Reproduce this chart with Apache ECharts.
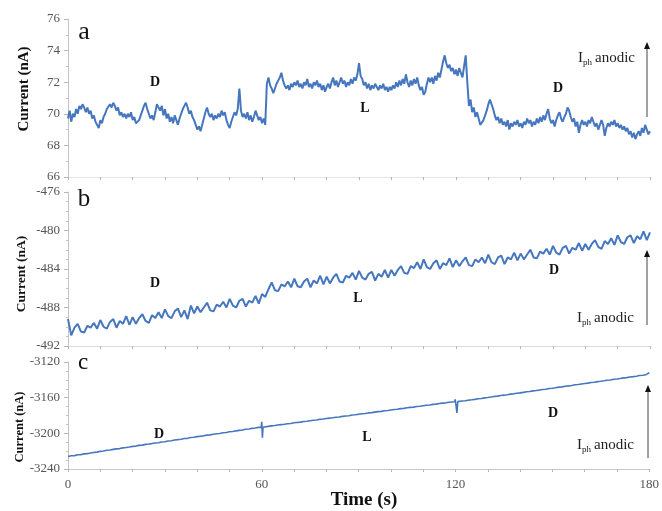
<!DOCTYPE html>
<html><head><meta charset="utf-8">
<script src="https://cdn.jsdelivr.net/npm/echarts@6/dist/echarts.min.js"></script>
<style>html,body{margin:0;padding:0;background:#fff}#c{width:662px;height:511px}</style>
</head><body><div id="c"></div>
<script>
// ---- data ----
const xTicks = [0, 60, 120, 180];
const stepA = 0.5;   // s between samples, panel a
const valsA = [
69.7,70.2,69.5,70.0,69.8,70.3,70.0,70.5,70.3,70.6,
70.4,70.1,70.4,70.0,70.2,69.7,69.9,69.5,69.3,69.1,
69.6,69.4,69.8,70.0,70.3,70.2,70.6,70.4,70.7,70.5,
70.2,70.4,69.9,70.1,69.8,70.0,69.7,70.0,69.8,70.1,
69.6,69.8,69.4,69.3,69.6,69.9,70.2,70.5,70.7,70.3,
70.0,69.7,69.9,69.6,70.1,70.6,70.7,70.2,70.5,69.9,
70.3,69.7,70.0,69.5,69.8,69.4,69.9,69.6,69.3,69.7,
70.0,70.3,70.5,70.7,70.4,70.0,70.2,69.8,69.6,69.3,
69.0,69.2,68.9,69.3,69.7,70.1,70.4,70.0,69.8,70.0,
69.6,69.9,69.7,70.0,69.8,70.2,69.9,70.1,69.6,69.3,
69.1,69.5,69.8,70.1,69.9,70.3,71.6,70.2,69.8,70.0,
69.7,70.1,69.6,69.9,69.5,69.8,70.2,69.9,69.6,69.8,
69.4,
69.7,69.3,71.9,72.3,71.8,71.6,71.3,71.6,71.9,72.1,
72.3,72.6,72.1,71.8,71.6,71.8,71.5,71.9,71.7,72.0,
71.8,72.1,71.7,71.9,71.6,72.0,71.8,72.2,71.7,71.9,
71.6,72.0,71.8,72.1,71.7,71.9,71.5,71.8,71.4,71.7,
71.9,71.6,72.0,72.3,71.8,72.1,71.7,72.0,72.3,71.9,
72.1,71.7,72.0,71.8,72.2,71.9,72.3,72.1,72.5,73.2,
72.4,72.2,71.8,72.0,71.6,71.9,71.5,71.8,71.6,71.9,
71.7,71.5,71.8,71.6,71.9,71.5,71.7,71.4,71.7,71.5,
71.8,71.6,72.0,71.7,72.1,71.8,72.2,71.9,72.5,72.0,
71.7,72.1,71.8,72.2,71.9,72.3,71.8,71.5,71.7,71.2,
71.4,71.9,72.3,72.0,72.3,71.9,72.4,72.1,72.6,72.3,
72.8,73.3,73.7,73.2,72.9,73.1,72.7,72.9,72.5,72.8,
72.4,72.9,72.6,72.3,73.0,73.7,72.0,70.5,70.9,70.1,
70.4,69.8,70.1,69.7,69.3,69.2,69.6,69.9,70.2,70.6,
70.9,70.6,70.3,69.9,69.6,69.8,69.4,69.7,69.3,69.5,
69.2,69.6,69.0,69.4,69.2,69.5,69.3,69.6,69.2,69.4,
69.1,69.5,69.3,69.7,69.4,69.6,69.2,69.5,69.3,69.7,
69.4,69.8,69.5,69.9,69.6,70.0,70.3,69.7,69.4,69.6,
69.2,69.6,69.9,70.1,69.7,69.5,69.8,70.0,70.4,70.2,
69.8,69.5,69.7,69.2,69.5,68.8,69.3,69.6,69.3,69.5,
69.2,69.6,69.4,69.8,69.5,69.2,69.4,69.0,69.3,69.6,
69.3,68.6,69.1,69.4,69.2,69.5,69.3,69.6,69.2,69.4,
69.1,69.3,69.0,69.2,68.9,69.1,68.7,68.9,68.5,68.8,
68.4,68.7,68.9,68.6,69.1,68.8,69.3,69.0,68.7,68.9
];
const stepB = 1;
const valsB = [
-489.2,-490.9,-490.1,-489.7,-490.5,-490.6,-489.9,-490.1,-489.6,-490.2,
-489.3,-490.0,-490.2,-489.5,-489.2,-490.1,-489.4,-489.7,-488.9,-489.8,
-489.0,-489.7,-489.1,-488.7,-489.4,-489.6,-488.8,-489.1,-488.5,-489.1,
-488.2,-488.9,-489.1,-488.4,-488.1,-489.0,-488.3,-489.2,-487.8,-488.6,
-487.9,-488.5,-488.0,-487.5,-488.3,-488.4,-487.7,-487.9,-487.4,-488.0,
-487.1,-487.8,-488.0,-487.3,-487.1,-487.9,-487.3,-487.5,-486.8,-487.6,
-486.6,-486.9,-486.1,-485.4,-486.2,-486.3,-485.6,-485.8,-485.3,-485.9,
-485.0,-485.8,-485.9,-485.3,-485.0,-485.9,-485.2,-485.5,-484.7,-485.6,
-484.8,-485.5,-484.9,-484.5,-485.3,-485.4,-484.7,-484.9,-484.4,-485.1,
-484.2,-484.9,-485.1,-484.5,-484.3,-485.2,-484.5,-484.8,-484.1,-484.9,
-484.1,-484.7,-484.1,-483.7,-484.4,-484.5,-483.7,-483.9,-483.3,-484.0,
-483.0,-483.8,-484.0,-483.4,-483.1,-484.0,-483.4,-483.6,-482.9,-483.8,
-483.1,-483.7,-483.2,-482.8,-483.6,-483.7,-483.0,-483.3,-482.8,-483.4,
-482.5,-483.3,-483.5,-482.8,-482.6,-483.5,-482.8,-483.0,-482.3,-483.1,
-482.4,-483.0,-482.5,-482.0,-482.8,-482.9,-482.2,-482.4,-481.9,-482.5,
-481.6,-482.3,-482.5,-481.8,-481.6,-482.4,-481.8,-482.0,-481.3,-482.1,
-481.4,-482.0,-481.4,-481.0,-481.7,-481.9,-481.1,-481.4,-480.8,-481.5,
-480.5,-481.2,-481.4,-480.7,-480.5,-481.3,-480.6,-480.9,-480.1,-481.0,
-480.2
];
const stepC = 1;
const valsC = [
-3226.0,-3225.2,-3225.0,-3224.1,-3223.9,-3223.0,-3222.8,-3222.0,-3221.4,-3221.1,
-3220.2,-3219.9,-3219.0,-3218.7,-3218.0,-3217.4,-3217.1,-3216.3,-3215.9,-3215.4,
-3214.6,-3214.3,-3213.5,-3213.2,-3212.4,-3212.0,-3211.5,-3210.8,-3210.5,-3209.7,
-3209.4,-3208.6,-3208.3,-3207.5,-3207.1,-3206.6,-3205.8,-3205.6,-3204.7,-3204.4,
-3203.7,-3203.2,-3202.8,-3202.0,-3201.7,-3201.0,-3200.5,-3200.1,-3199.3,-3199.0,
-3198.2,-3197.9,-3197.2,-3196.7,-3196.3,-3195.5,-3195.2,-3194.4,-3194.1,-3193.3,
-3193.0,-3192.6,-3192.2,-3191.6,-3191.3,-3190.7,-3190.2,-3189.9,-3189.2,-3188.9,
-3188.2,-3187.8,-3187.4,-3186.7,-3186.4,-3185.8,-3185.3,-3185.0,-3184.3,-3184.0,
-3183.4,-3182.9,-3182.6,-3181.9,-3181.6,-3181.0,-3180.5,-3180.2,-3179.5,-3179.2,
-3178.6,-3178.1,-3177.8,-3177.1,-3176.8,-3176.2,-3175.7,-3175.4,-3174.7,-3174.4,
-3173.8,-3173.3,-3173.0,-3172.3,-3172.0,-3171.4,-3170.9,-3170.6,-3169.9,-3169.6,
-3169.0,-3168.5,-3168.2,-3167.5,-3167.2,-3166.6,-3166.1,-3165.8,-3165.1,-3164.8,
-3164.4,-3164.1,-3163.8,-3163.5,-3162.8,-3162.4,-3161.9,-3161.2,-3160.9,-3160.2,
-3159.8,-3159.3,-3158.6,-3158.3,-3157.6,-3157.2,-3156.7,-3156.0,-3155.7,-3155.0,
-3154.6,-3154.1,-3153.4,-3153.1,-3152.4,-3152.0,-3151.5,-3150.8,-3150.5,-3149.8,
-3149.4,-3148.9,-3148.2,-3147.9,-3147.2,-3146.8,-3146.3,-3145.6,-3145.3,-3144.6,
-3144.2,-3143.7,-3143.0,-3142.7,-3142.0,-3141.6,-3141.1,-3140.4,-3140.1,-3139.4,
-3139.0,-3138.5,-3137.8,-3137.5,-3136.8,-3136.4,-3135.9,-3135.2,-3134.9,-3134.2,
-3132.0
];
// short transients in panel c (sampled between the 1-s points)
const spikeTimesC = [59.8, 60.0, 60.2, 60.4, 119.7, 119.9, 120.2, 120.45, 120.7];
const spikeValsC  = [-3193.4, -3187.0, -3205.0, -3193.1, -3164.6, -3162.0, -3166.0, -3177.0, -3164.4];
const yA = {min: 66, max: 76, interval: 2};
const yB = {min: -492, max: -476, interval: 4};
const yC = {min: -3240, max: -3120, interval: 40};

// ---- chart ----
const SERIF = '"Liberation Serif", "DejaVu Serif", serif';
const LINE = '#4677be';
const pairs = (vals, step) => vals.map((v, i) => [i * step, v]);
const dataC = pairs(valsC, stepC).concat(spikeTimesC.map((t, i) => [t, spikeValsC[i]]))
  .sort((p, q) => p[0] - q[0]);

function xAxis(idx, showLabels, lineColor) {
  return {
    type: 'value', gridIndex: idx, min: xTicks[0], max: xTicks[xTicks.length - 1], interval: 60,
    axisLine: {show: true, onZero: false, lineStyle: {color: lineColor, width: 1}},
    axisTick: {show: true, length: 3, lineStyle: {color: '#b5b5b5'}},
    minorTick: {show: true, splitNumber: 6, length: 3, lineStyle: {color: '#b5b5b5'}},
    splitLine: {show: false},
    axisLabel: {show: showLabels, color: '#555', fontFamily: SERIF, fontSize: 13, margin: 9,
                formatter: v => String(v)}
  };
}
function yAxis(idx, r, minorSplit) {
  return {
    type: 'value', gridIndex: idx, min: r.min, max: r.max, interval: r.interval,
    axisLine: {show: true, lineStyle: {color: '#c4c4c4'}},
    axisTick: {show: true, length: 4, lineStyle: {color: '#b5b5b5'}},
    minorTick: {show: true, splitNumber: minorSplit, length: 2, lineStyle: {color: '#c4c4c4'}},
    splitLine: {show: false},
    axisLabel: {color: '#555', fontFamily: SERIF, fontSize: 13, margin: 8, formatter: v => String(v)}
  };
}
function txt(x, y, text, font, extra) {
  return Object.assign({type: 'text', x: x, y: y, silent: true,
    style: {text: text, font: font, fill: '#111', align: 'center', verticalAlign: 'middle'}}, extra || {});
}
function iph(x, y) {
  return [
    {type: 'text', x: x, y: y, style: {text: 'I', font: '15px ' + SERIF, fill: '#222', align: 'left', verticalAlign: 'middle'}},
    {type: 'text', x: x + 5, y: y + 5, style: {text: 'ph', font: '9px ' + SERIF, fill: '#222', align: 'left', verticalAlign: 'middle'}},
    {type: 'text', x: x + 17, y: y, style: {text: 'anodic', font: '15px ' + SERIF, fill: '#222', align: 'left', verticalAlign: 'middle'}}
  ];
}
function arrow(x, yTop, yBot) {
  return [
    {type: 'line', shape: {x1: x, y1: yTop + 5, x2: x, y2: yBot}, style: {stroke: '#444', lineWidth: 1}},
    {type: 'polygon', shape: {points: [[x, yTop], [x - 3, yTop + 7], [x + 3, yTop + 7]]}, style: {fill: '#111'}}
  ];
}
function ylabel(x, y, size) {
  return txt(x, y, 'Current (nA)', 'bold ' + size + 'px ' + SERIF, {rotation: Math.PI / 2});
}

const graphics = [
  txt(84, 32, 'a', '26px ' + SERIF),
  txt(84, 199, 'b', '25px ' + SERIF),
  txt(83, 363, 'c', '23px ' + SERIF),
  txt(155, 82, 'D', 'bold 14px ' + SERIF),
  txt(365, 108, 'L', 'bold 14px ' + SERIF),
  txt(558, 88, 'D', 'bold 14px ' + SERIF),
  txt(155, 283, 'D', 'bold 14px ' + SERIF),
  txt(358, 298, 'L', 'bold 14px ' + SERIF),
  txt(554, 270, 'D', 'bold 14px ' + SERIF),
  txt(159, 434, 'D', 'bold 14px ' + SERIF),
  txt(367, 437, 'L', 'bold 14px ' + SERIF),
  txt(553, 413, 'D', 'bold 14px ' + SERIF),
  ylabel(24, 89, 15),
  ylabel(22, 274, 13.5),
  ylabel(20, 427, 12.5),
  txt(364, 500, 'Time (s)', 'bold 19px ' + SERIF)
].concat(iph(578, 58), iph(577, 318), iph(577, 445),
         arrow(647, 42, 117), arrow(647, 250, 325), arrow(648, 385, 458));

const chart = echarts.init(document.getElementById('c'), null, {renderer: 'canvas'});
chart.setOption({
  animation: false,
  backgroundColor: '#fff',
  grid: [
    {left: 68, right: 12, top: 19, height: 158},
    {left: 68, right: 12, top: 192, height: 154},
    {left: 68, right: 12, top: 362, height: 107}
  ],
  xAxis: [xAxis(0, false, '#e6e6e6'), xAxis(1, false, '#dcdcdc'), xAxis(2, true, '#c8c8c8')],
  yAxis: [yAxis(0, yA, 2), yAxis(1, yB, 4), yAxis(2, yC, 4)],
  series: [
    {type: 'line', xAxisIndex: 0, yAxisIndex: 0, data: pairs(valsA, stepA), showSymbol: false,
     lineStyle: {color: LINE, width: 2}, itemStyle: {color: LINE}},
    {type: 'line', xAxisIndex: 1, yAxisIndex: 1, data: pairs(valsB, stepB), showSymbol: false,
     lineStyle: {color: LINE, width: 2}, itemStyle: {color: LINE}},
    {type: 'line', xAxisIndex: 2, yAxisIndex: 2, data: dataC, showSymbol: false,
     lineStyle: {color: LINE, width: 1.6}, itemStyle: {color: LINE}}
  ],
  graphic: graphics
});
</script></body></html>
